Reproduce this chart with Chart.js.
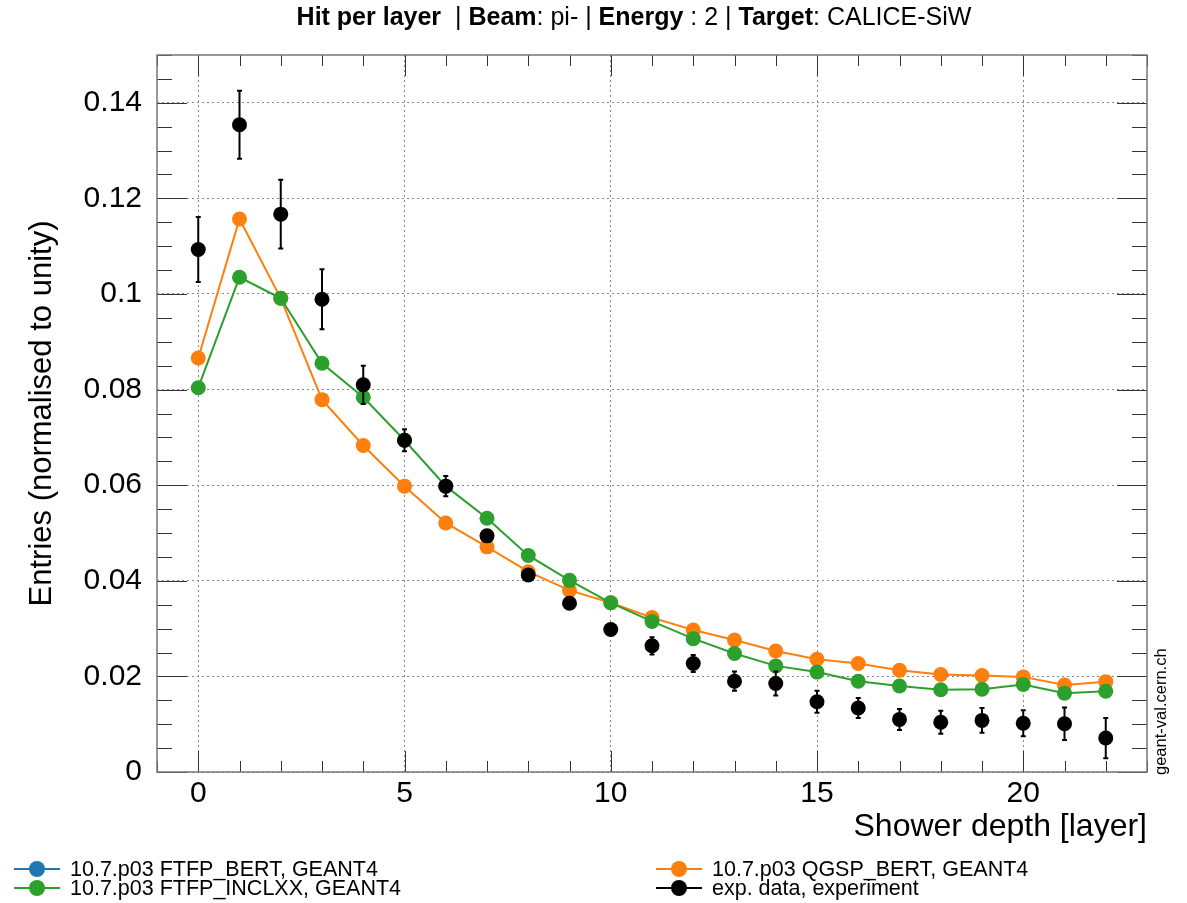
<!DOCTYPE html>
<html>
<head>
<meta charset="utf-8">
<script src="https://cdn.jsdelivr.net/npm/chart.js@4.4.1/dist/chart.umd.min.js"></script>
<style>
  body { margin: 0; background: #fff; font-family: "Liberation Sans", Arial, sans-serif; }
  #wrap { position: relative; width: 1187px; height: 903px; }
  #title { position: absolute; top: 2px; left: 634px; transform: translateX(-50%); white-space: nowrap; font-size: 25px; }
  #legend { position: absolute; left: 0; top: 859px; width: 1187px; font-size: 21.5px; }
  .item { position: absolute; white-space: nowrap; line-height: 20px; }
  .mark { position: absolute; top: 9px; width: 46px; height: 2px; }
  .mark i { position: absolute; left: 15px; top: -7px; width: 16px; height: 16px; border-radius: 50%; }
  .item span { position: absolute; left: 56px; top: 0; }
  #site { position: absolute; left: 1161px; top: 775px; transform: rotate(-90deg); transform-origin: 0 0; font-size: 16.5px; white-space: nowrap; line-height: 1; margin-left: -9px; }
</style>
</head>
<body>
<div id="wrap">
  <canvas id="chart" width="1187" height="903"></canvas>
  <div id="title"><b>Hit per layer</b> &nbsp;| <b>Beam</b>: pi- | <b>Energy</b> : 2 | <b>Target</b>: CALICE-SiW</div>
  <div id="site">geant-val.cern.ch</div>
  <div id="legend"></div>
</div>
<script>
const layers = [0, 1, 2, 3, 4, 5, 6, 7, 8, 9, 10, 11, 12, 13, 14, 15, 16, 17, 18, 19, 20, 21, 22];

const qgspBert = [0.0866, 0.1157, 0.0991, 0.0779, 0.0683, 0.0598, 0.0521, 0.0471, 0.0419, 0.0380,
  0.0354, 0.0323, 0.0297, 0.0276, 0.0253, 0.0236, 0.0227, 0.0213, 0.0204, 0.0202, 0.0199, 0.0182, 0.0189];

const ftfpInclxx = [0.0804, 0.1035, 0.0991, 0.0855, 0.0784, 0.0694, 0.0598, 0.0531, 0.0453, 0.0401,
  0.0354, 0.0315, 0.0279, 0.0248, 0.0222, 0.0209, 0.0190, 0.0180, 0.0172, 0.0173, 0.0183, 0.0165, 0.0169];

const expData = [0.1093, 0.1354, 0.1167, 0.0989, 0.0810, 0.0694, 0.0598, 0.0494, 0.0412, 0.0353,
  0.0298, 0.0264, 0.0227, 0.0190, 0.0185, 0.0147, 0.0134, 0.0110, 0.0104, 0.0108, 0.0102, 0.0101, 0.0071];

const expErr = [0.0068, 0.0071, 0.0072, 0.0063, 0.0040, 0.0023, 0.0021, 0.0010, 0.0008, 0.0008,
  0.0009, 0.0018, 0.0018, 0.0020, 0.0025, 0.0023, 0.0021, 0.0022, 0.0024, 0.0026, 0.0027, 0.0034, 0.0042];

const xTicks = [0, 5, 10, 15, 20];
const yTicks = [0, 0.02, 0.04, 0.06, 0.08, 0.1, 0.12, 0.14];
const yTickLabels = ['0', '0.02', '0.04', '0.06', '0.08', '0.1', '0.12', '0.14'];

// legend entries (name, colour), two columns like the ROOT legend
const legendNames = ['10.7.p03 FTFP_BERT, GEANT4', '10.7.p03 QGSP_BERT, GEANT4',
  '10.7.p03 FTFP_INCLXX, GEANT4', 'exp. data, experiment'];
const legendColors = ['#1f77b4', '#ff7f0e', '#2ca02c', '#000000'];

const pts = (ys) => layers.map((x, i) => ({ x: x, y: ys[i] }));

const legend = document.getElementById('legend');
legendNames.forEach((name, i) => {
  const d = document.createElement('div');
  d.className = 'item';
  d.style.left = (i % 2 ? 656 : 14) + 'px';
  d.style.top = (i < 2 ? 0 : 19) + 'px';
  d.innerHTML = '<div class="mark" style="background:' + legendColors[i] + '"><i style="background:' +
    legendColors[i] + '"></i></div><span>' + name + '</span>';
  legend.appendChild(d);
});

// error bars + ROOT style frame with inward ticks
const rootFrame = {
  id: 'rootFrame',
  afterDatasetsDraw(chart) {
    const { ctx, scales: { x, y } } = chart;
    ctx.save();
    ctx.strokeStyle = '#000';
    ctx.lineWidth = 2;
    layers.forEach((l, i) => {
      const px = x.getPixelForValue(l);
      const top = y.getPixelForValue(expData[i] + expErr[i]);
      const bot = y.getPixelForValue(expData[i] - expErr[i]);
      ctx.beginPath();
      ctx.moveTo(px, top); ctx.lineTo(px, bot);
      ctx.moveTo(px - 2.5, top); ctx.lineTo(px + 2.5, top);
      ctx.moveTo(px - 2.5, bot); ctx.lineTo(px + 2.5, bot);
      ctx.stroke();
    });
    ctx.restore();
  },
  afterDraw(chart) {
    const { ctx, chartArea: a, scales: { x, y } } = chart;
    ctx.save();
    ctx.strokeStyle = '#333';
    ctx.lineWidth = 1;
    ctx.beginPath();
    for (let v = -1; v <= 23; v++) {
      const px = Math.round(x.getPixelForValue(v)) + 0.5;
      const len = v % 5 === 0 ? 21 : 11;
      ctx.moveTo(px, a.bottom); ctx.lineTo(px, a.bottom - len);
      ctx.moveTo(px, a.top); ctx.lineTo(px, a.top + len);
    }
    for (let k = 0; k <= 30; k++) {
      const py = Math.round(y.getPixelForValue(k * 0.005)) + 0.5;
      const len = k % 4 === 0 ? 30 : 15;
      ctx.moveTo(a.left, py); ctx.lineTo(a.left + len, py);
      ctx.moveTo(a.right, py); ctx.lineTo(a.right - len, py);
    }
    ctx.stroke();
    ctx.strokeStyle = '#777';
    ctx.lineWidth = 1.5;
    ctx.strokeRect(a.left, a.top, a.right - a.left, a.bottom - a.top);
    ctx.restore();
  }
};

Chart.defaults.font.family = '"Liberation Sans", Arial, sans-serif';
Chart.defaults.color = '#000';

new Chart(document.getElementById('chart'), {
  type: 'line',
  data: {
    datasets: [
      {
        label: 'exp. data, experiment',
        data: pts(expData),
        showLine: false,
        backgroundColor: '#000',
        borderColor: '#000',
        pointRadius: 7.5,
        pointBorderWidth: 0
      },
      {
        label: '10.7.p03 FTFP_INCLXX, GEANT4',
        data: pts(ftfpInclxx),
        borderColor: '#2ca02c',
        backgroundColor: '#2ca02c',
        borderWidth: 2,
        pointRadius: 7.5,
        pointBorderWidth: 0
      },
      {
        label: '10.7.p03 QGSP_BERT, GEANT4',
        data: pts(qgspBert),
        borderColor: '#ff7f0e',
        backgroundColor: '#ff7f0e',
        borderWidth: 2,
        pointRadius: 7.5,
        pointBorderWidth: 0
      }
    ]
  },
  options: {
    responsive: false,
    animation: false,
    events: [],
    layout: { padding: { top: 55, right: 40, left: 0, bottom: 0 } },
    plugins: { legend: { display: false }, tooltip: { enabled: false } },
    scales: {
      x: {
        type: 'linear',
        min: -1,
        max: 23,
        afterBuildTicks: (s) => { s.ticks = xTicks.map(v => ({ value: v })); },
        afterFit: (s) => { s.height = 131; },
        ticks: { font: { size: 30 }, padding: 4, maxRotation: 0 },
        grid: { drawTicks: false, color: '#888', lineWidth: 1 },
        border: { display: false, dash: [2, 3] },
        title: {
          display: true,
          text: 'Shower depth [layer]',
          align: 'end',
          font: { size: 32 },
          padding: { bottom: 57, top: 0 }
        }
      },
      y: {
        min: 0,
        max: 0.15,
        afterBuildTicks: (s) => { s.ticks = yTicks.map(v => ({ value: v })); },
        afterFit: (s) => { s.width = 157; },
        ticks: {
          font: { size: 30 },
          padding: 15,
          callback: (v) => { const i = yTicks.findIndex(t => Math.abs(t - v) < 1e-9); return i >= 0 ? yTickLabels[i] : ''; }
        },
        grid: { drawTicks: false, color: '#888', lineWidth: 1 },
        border: { display: false, dash: [2, 3] },
        title: {
          display: true,
          text: 'Entries (normalised to unity)',
          font: { size: 31 },
          padding: { top: 24, bottom: 0 }
        }
      }
    }
  },
  plugins: [rootFrame]
});
</script>
</body>
</html>
